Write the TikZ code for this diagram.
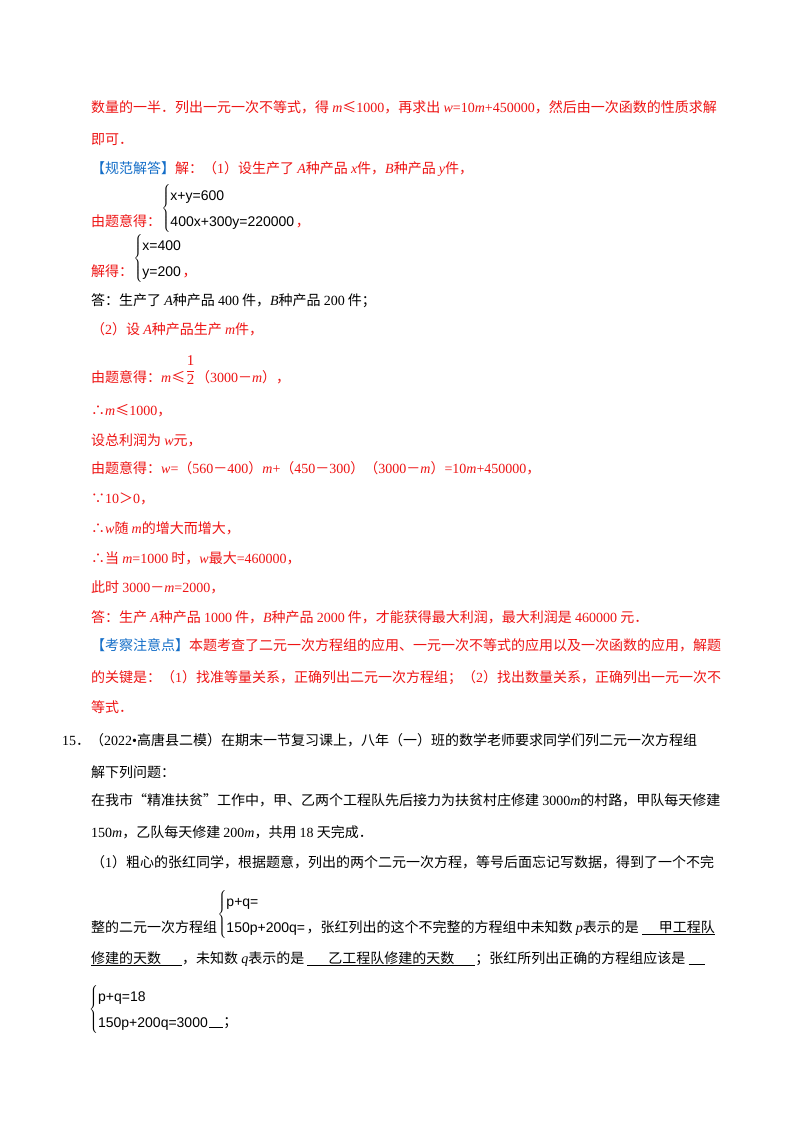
\documentclass[tikz,border=0pt]{standalone}
\usepackage{fontspec}
\setmainfont{Noto Sans CJK SC}
\newfontfamily\ltn{Liberation Serif}
\newfontfamily\eqf{Liberation Sans}
\newcommand{\nn}[1]{{\ltn #1}}
\newcommand{\iv}[1]{{\ltn\itshape #1}}
\definecolor{rd}{RGB}{238,20,20}
\definecolor{bl}{RGB}{20,110,200}
\tikzset{
  ln/.style={anchor=base west,inner sep=0pt,font=\fontsize{14}{26}\selectfont},
  r/.style={ln,text=rd},
  k/.style={ln,text=black},
  sys/.style={anchor=west,inner sep=0pt,font=\fontsize{14}{26}\selectfont\eqf}
}
\newcommand{\sysb}[2]{$\left\{\begin{tabular}{@{}l@{}}#1\\#2\end{tabular}\right.$}
\begin{document}
\begin{tikzpicture}[x=1pt,y=-1pt]
\useasboundingbox[fill=white] (0,0) rectangle (800,1132);
\node[r] (l1) at (91,112) {数量的一半．列出一元一次不等式，得 \iv{m}≤\nn{1000}，再求出 \iv{w}\nn{=10}\iv{m}\nn{+450000}，然后由一次函数的性质求解};
\node[r] (l2) at (91,144) {即可．};
\node[r] (l3) at (91,173) {\textcolor{bl}{【规范解答】}解：（\nn{1}）设生产了 \iv{A}种产品 \iv{x}件，\iv{B}种产品 \iv{y}件，};
\node[r] (l4) at (91,226) {由题意得：};
\node[sys,text=black] (s1) at (l4.base east |- 0,208) {\sysb{x+y=600}{400x+300y=220000}};
\node[r] (l4b) at (s1.east |- l4.base) {，};
\node[r] (l5) at (91,276) {解得：};
\node[sys,text=black] (s2) at (l5.base east |- 0,258) {\sysb{x=400}{y=200}};
\node[r] (l5b) at (s2.east |- l5.base) {，};
\node[k] (l6) at (91,305) {答：生产了 \iv{A}种产品 \nn{400} 件，\iv{B}种产品 \nn{200} 件；};
\node[r] (l7) at (91,334) {（\nn{2}）设 \iv{A}种产品生产 \iv{m}件，};
\node[r] (l8) at (91,382) {由题意得：\iv{m}≤};
\node[r,anchor=west] (fr) at (l8.base east |- 0,370) {$\displaystyle\frac{\mbox{\fontsize{15}{15}\selectfont\ltn 1}}{\mbox{\fontsize{15}{15}\selectfont\ltn 2}}$};
\node[r] (l8b) at (fr.east |- l8.base) {（\nn{3000}－\iv{m}），};
\node[r] (l9) at (91,415) {∴\iv{m}≤\nn{1000}，};
\node[r] (l10) at (91,445) {设总利润为 \iv{w}元，};
\node[r] (l11) at (91,473) {由题意得：\iv{w}\nn{=}（\nn{560}－\nn{400}）\iv{m}\nn{+}（\nn{450}－\nn{300}）（\nn{3000}－\iv{m}）\nn{=10}\iv{m}\nn{+450000}，};
\node[r] (l12) at (91,503) {∵\nn{10}＞\nn{0}，};
\node[r] (l13) at (91,533) {∴\iv{w}随 \iv{m}的增大而增大，};
\node[r] (l14) at (91,563) {∴当 \iv{m}\nn{=1000} 时，\iv{w}最大\nn{=460000}，};
\node[r] (l15) at (91,592) {此时 \nn{3000}－\iv{m}\nn{=2000}，};
\node[r] (l16) at (91,622) {答：生产 \iv{A}种产品 \nn{1000} 件，\iv{B}种产品 \nn{2000} 件，才能获得最大利润，最大利润是 \nn{460000} 元．};
\node[r] (l17) at (91,650) {\textcolor{bl}{【考察注意点】}本题考查了二元一次方程组的应用、一元一次不等式的应用以及一次函数的应用，解题};
\node[r] (l18) at (91,682) {的关键是：（\nn{1}）找准等量关系，正确列出二元一次方程组；（\nn{2}）找出数量关系，正确列出一元一次不};
\node[r] (l19) at (91,712) {等式．};
\node[k] (l20) at (62,745) {\nn{15}．（\nn{2022•}高唐县二模）在期末一节复习课上，八年（一）班的数学老师要求同学们列二元一次方程组};
\node[k] (l21) at (91,777) {解下列问题：};
\node[k] (l22) at (91,805) {在我市“精准扶贫”工作中，甲、乙两个工程队先后接力为扶贫村庄修建 \nn{3000}\iv{m}的村路，甲队每天修建};
\node[k] (l23) at (91,837) {\nn{150}\iv{m}，乙队每天修建 \nn{200}\iv{m}，共用 \nn{18} 天完成．};
\node[k] (l24) at (91,867) {（\nn{1}）粗心的张红同学，根据题意，列出的两个二元一次方程，等号后面忘记写数据，得到了一个不完};
\node[k] (l25) at (91,932) {整的二元一次方程组};
\node[sys] (s3) at (l25.base east |- 0,914) {\sysb{p+q=}{150p+200q=}};
\node[k] (l25b) at (s3.east |- l25.base) {，张红列出的这个不完整的方程组中未知数 \iv{p}表示的是 \underline{\hspace{1.2em}甲工程队}};
\node[k] (l26) at (91,963) {\underline{修建的天数\hspace{1.5em}}，未知数 \iv{q}表示的是 \underline{\hspace{1.5em}乙工程队修建的天数\hspace{1.5em}}；张红所列出正确的方程组应该是 \underline{\hspace{1.2em}}};
\node[sys] (s4) at (89,1009) {\sysb{p+q=18}{150p+200q=3000}};
\node[k] (l27) at (s4.east |- 0,1026) {\underline{\hspace{1em}}；};
\end{tikzpicture}
\end{document}
